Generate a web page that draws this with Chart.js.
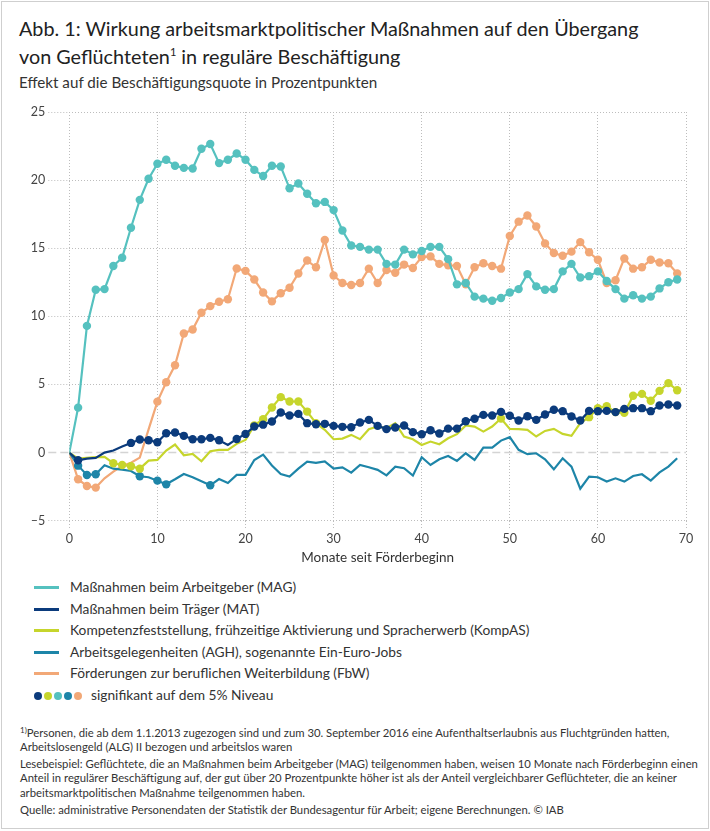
<!DOCTYPE html>
<html lang="de">
<head>
<meta charset="utf-8">
<script src="https://cdn.jsdelivr.net/npm/chart.js@4.4.1/dist/chart.umd.min.js"></script>
<style>
  body { margin: 0; width: 710px; height: 831px; background: #fff; font-family: Lato, sans-serif; color: #333; position: relative; overflow: hidden; }
  .frame { position: absolute; left: 1px; top: 1px; width: 708px; height: 828px; border: 1px solid #cfcfcf; box-sizing: border-box; }
  .title { position: absolute; left: 19px; top: 14px; font-size: 19.8px; line-height: 28px; color: #222; white-space: nowrap; }
  .title sup { font-size: 11px; vertical-align: 8px; line-height: 0; }
  .subtitle { position: absolute; left: 19px; top: 73px; font-size: 15.2px; line-height: 18px; color: #333; white-space: nowrap; }
  #chartBox { position: absolute; left: 0; top: 100px; width: 710px; height: 470px; }
  .legend-row { position: absolute; left: 34px; height: 20px; line-height: 20px; font-size: 13.75px; color: #333; white-space: nowrap; }
  .legend-row .sw { display: inline-block; width: 25px; height: 3px; vertical-align: middle; margin-right: 11px; margin-top: -2px; }
  .legend-row .dot { display: inline-block; width: 8px; height: 8px; border-radius: 50%; margin-right: 2px; vertical-align: middle; margin-top: -2px; }
  .notes { position: absolute; left: 20px; top: 726px; font-size: 11.3px; line-height: 14.2px; color: #333; white-space: nowrap; }
  .notes p { margin: 0 0 2.8px 0; }
  .notes sup { font-size: 8px; vertical-align: 4px; line-height: 0; }
</style>
</head>
<body>
<div class="frame"></div>
<div class="title">Abb. 1: Wirkung arbeitsmarktpolitischer Maßnahmen auf den Übergang<br>von Geflüchteten<sup>1</sup> in reguläre Beschäftigung</div>
<div class="subtitle">Effekt auf die Beschäftigungsquote in Prozentpunkten</div>
<div id="chartBox"><canvas id="chart"></canvas></div>
<div id="legend"></div>
<div class="notes">
  <p><sup>1)</sup>Personen, die ab dem 1.1.2013 zugezogen sind und zum 30. September 2016 eine Aufenthaltserlaubnis aus Fluchtgründen hatten,<br>Arbeitslosengeld (ALG) II bezogen und arbeitslos waren</p>
  <p>Lesebeispiel: Geflüchtete, die an Maßnahmen beim Arbeitgeber (MAG) teilgenommen haben, weisen 10 Monate nach Förderbeginn einen<br>Anteil in regulärer Beschäftigung auf, der gut über 20 Prozentpunkte höher ist als der Anteil vergleichbarer Geflüchteter, die an keiner<br>arbeitsmarktpolitischen Maßnahme teilgenommen haben.</p>
  <p style="margin-top:1.5px">Quelle: administrative Personendaten der Statistik der Bundesagentur für Arbeit; eigene Berechnungen. © IAB</p>
</div>

<script>
// Monate seit Förderbeginn (0..69)
const months = Array.from({ length: 70 }, (_, i) => i);

// Effekte in Prozentpunkten
const magValues = [0, 3.3, 9.3, 11.95, 12.0, 13.7, 14.3, 16.5, 18.55, 20.1,
  21.2, 21.5, 21.05, 20.9, 20.85, 22.3, 22.65, 21.25, 21.5, 21.95,
  21.5, 20.75, 20.3, 21.05, 21.0, 19.4, 19.75, 19.0, 18.3, 18.4,
  17.8, 16.3, 15.2, 15.1, 14.9, 14.9, 13.85, 13.8, 14.9, 14.55,
  14.8, 15.1, 15.1, 14.2, 12.35, 12.45, 11.45, 11.3, 11.15, 11.35,
  11.75, 12.0, 13.1, 12.2, 11.95, 12.0, 13.3, 13.85, 12.85, 12.95,
  13.3, 12.6, 12.0, 11.3, 11.55, 11.3, 11.45, 12.05, 12.5, 12.7];

const matValues = [0, -0.56, -0.44, -0.39, 0.0, 0.15, 0.44, 0.71, 0.96, 0.91,
  0.76, 1.42, 1.47, 1.23, 0.98, 0.98, 1.08, 0.91, 0.56, 1.0,
  1.37, 1.91, 2.05, 2.28, 2.94, 2.72, 2.84, 2.16, 2.08, 2.11,
  1.96, 1.89, 1.86, 2.21, 2.4, 1.96, 1.72, 1.84, 1.99, 1.5,
  1.35, 1.64, 1.4, 1.76, 1.76, 2.3, 2.48, 2.77, 2.72, 2.99,
  2.7, 2.35, 2.67, 2.4, 2.79, 3.14, 3.04, 2.65, 2.35, 3.06,
  3.04, 3.06, 2.97, 3.21, 3.26, 3.26, 3.04, 3.46, 3.53, 3.46];

const kompasValues = [0, -0.44, -0.39, -0.34, -0.32, -0.78, -0.91, -1.0, -1.18, -0.59,
  -0.54, 0.15, 0.59, -0.2, -0.1, -0.64, 0.1, 0.2, 0.2, 0.64,
  0.93, 2.0, 2.45, 3.31, 4.07, 3.75, 3.75, 3.01, 2.16, 1.67,
  0.98, 1.03, 1.3, 0.98, 1.72, 1.91, 1.79, 2.16, 1.18, 0.98,
  0.56, 0.81, 0.61, 1.05, 1.35, 1.99, 1.91, 1.54, 1.91, 2.5,
  1.74, 1.72, 1.67, 1.18, 1.59, 1.74, 1.37, 1.23, 2.16, 2.6,
  3.26, 3.41, 2.97, 2.92, 4.17, 4.31, 3.8, 4.53, 5.1, 4.58];

const aghValues = [0, -0.96, -1.64, -1.59, -0.93, -1.18, -1.25, -1.35, -1.74, -1.81,
  -2.06, -2.33, -1.96, -1.57, -1.81, -2.11, -2.4, -1.94, -2.23, -1.64,
  -1.64, -0.54, -0.15, -0.95, -1.57, -1.76, -1.18, -0.66, -0.76, -0.64,
  -1.18, -1.08, -1.47, -0.91, -1.08, -1.27, -1.67, -1.03, -1.15, -1.69,
  -0.34, -0.91, -0.49, -0.25, -0.61, -0.05, -0.54, 0.37, 0.37, 0.88,
  1.13, 0.2, -0.12, -0.05, -0.49, -1.23, -0.42, -1.03, -2.65, -1.76,
  -1.81, -2.13, -1.89, -2.13, -1.72, -1.59, -2.06, -1.45, -1.03, -0.42];

const fbwValues = [0, -1.96, -2.45, -2.57, -1.89, -1.4, -0.98, -0.74, -0.37, 1.7,
  3.74, 5.16, 6.41, 8.74, 9.03, 10.26, 10.75, 11.07, 11.26, 13.51,
  13.34, 12.7, 11.75, 11.1, 11.7, 12.1, 13.15, 14.1, 13.6, 15.6,
  13.0, 12.45, 12.3, 12.45, 13.5, 12.45, 13.4, 13.2, 13.8, 13.55,
  14.35, 14.4, 13.85, 13.75, 13.7, 12.35, 13.6, 13.9, 13.7, 13.5,
  15.9, 16.95, 17.4, 16.6, 15.35, 14.65, 14.45, 14.75, 15.45, 14.7,
  14.15, 12.45, 12.65, 14.25, 13.5, 13.6, 14.15, 13.95, 13.9, 13.15];

// signifikant auf dem 5% Niveau (1 = Punkt wird gezeichnet)
const magSig = [0].concat(Array(69).fill(1));
const matSig = [0, 1, 0, 0, 0, 0, 0, 1, 1, 1, 1, 1, 1, 1, 1, 1, 1, 1, 0].concat(Array(51).fill(1));
const kompasSig = [0, 0, 0, 0, 0, 1, 1, 1, 1, 0,
  0, 0, 0, 0, 0, 0, 0, 0, 0, 0,
  0, 1, 1, 1, 1, 1, 1, 1, 1, 0,
  0, 0, 0, 0, 0, 0, 0, 0, 0, 0,
  0, 0, 0, 0, 0, 0, 0, 0, 0, 1,
  0, 0, 0, 0, 0, 0, 0, 0, 0, 1,
  1, 1, 1, 1, 1, 1, 1, 1, 1, 1];
const aghSig = [0, 1, 1, 1, 0, 0, 0, 0, 1, 0, 1, 1, 0, 0, 0, 0, 1].concat(Array(53).fill(0));
const fbwSig = [0, 1, 1, 1, 0, 0, 0, 0, 0, 0].concat(Array(60).fill(1));

const seriesNames = [
  'Maßnahmen beim Arbeitgeber (MAG)',
  'Maßnahmen beim Träger (MAT)',
  'Kompetenzfeststellung, frühzeitige Aktivierung und Spracherwerb (KompAS)',
  'Arbeitsgelegenheiten (AGH), sogenannte Ein-Euro-Jobs',
  'Förderungen zur beruflichen Weiterbildung (FbW)'
];
const seriesColors = ['#55c1bf', '#0b3b7c', '#c6d52c', '#1d85a8', '#f2a877'];
const seriesValues = [magValues, matValues, kompasValues, aghValues, fbwValues];
const seriesSig = [magSig, matSig, kompasSig, aghSig, fbwSig];

const yTicks = [-5, 0, 5, 10, 15, 20, 25];
const xTicks = [0, 10, 20, 30, 40, 50, 60, 70];

// Legende als HTML
const legend = document.getElementById('legend');
seriesNames.forEach((name, i) => {
  const row = document.createElement('div');
  row.className = 'legend-row';
  row.style.top = (577 + i * 21.6) + 'px';
  row.innerHTML = `<span class="sw" style="background:${seriesColors[i]}"></span>${name}`;
  legend.appendChild(row);
});
const sigRow = document.createElement('div');
sigRow.className = 'legend-row';
sigRow.style.top = (577 + 5 * 21.6) + 'px';
const dotOrder = [1, 2, 0, 3, 4];
sigRow.innerHTML = dotOrder.map(i => `<span class="dot" style="background:${seriesColors[i]}"></span>`).join('') +
  '<span style="margin-left:7px">signifikant auf dem 5% Niveau</span>';
legend.appendChild(sigRow);

// gestrichelte Nulllinie
const zeroLine = {
  id: 'zeroLine',
  beforeDatasetsDraw(chart) {
    const { ctx, chartArea, scales } = chart;
    const y = scales.y.getPixelForValue(0);
    ctx.save();
    ctx.strokeStyle = '#d4d4d4';
    ctx.lineWidth = 1.5;
    ctx.setLineDash([8, 4]);
    ctx.beginPath();
    ctx.moveTo(chartArea.left - 21, y);
    ctx.lineTo(chartArea.right, y);
    ctx.stroke();
    ctx.restore();
  }
};

Chart.defaults.font.family = 'Lato, sans-serif';
Chart.defaults.color = '#444';

new Chart(document.getElementById('chart'), {
  type: 'line',
  data: {
    labels: months,
    datasets: seriesValues.map((vals, i) => ({
      label: seriesNames[i],
      data: vals,
      borderColor: seriesColors[i],
      backgroundColor: seriesColors[i],
      borderWidth: 2.2,
      tension: 0,
      pointRadius: seriesSig[i].map(s => s ? 4.2 : 0),
      pointHoverRadius: 0,
      pointBorderWidth: 0,
      pointBackgroundColor: seriesColors[i]
    }))
  },
  options: {
    responsive: true,
    maintainAspectRatio: false,
    animation: false,
    events: [],
    layout: { padding: { top: 12, right: 24, bottom: 0, left: 0 } },
    plugins: { legend: { display: false }, tooltip: { enabled: false } },
    scales: {
      x: {
        type: 'linear',
        min: 0,
        max: 70,
        afterBuildTicks: axis => { axis.ticks = xTicks.map(v => ({ value: v })); },
        afterFit: axis => { axis.height = 49.3; },
        grid: { color: '#bdbdbd', lineWidth: 1, tickLength: 9, tickBorderDash: [1, 2] },
        border: { display: false, dash: [1, 2] },
        ticks: { font: { size: 12.5 }, padding: 2, maxRotation: 0 },
        title: { display: true, text: 'Monate seit Förderbeginn', font: { size: 13.5 }, color: '#333', padding: { top: 0, bottom: 4 } }
      },
      y: {
        min: -5,
        max: 25,
        afterBuildTicks: axis => { axis.ticks = yTicks.map(v => ({ value: v })); },
        afterFit: axis => { axis.width = 69.3; },
        grid: {
          color: c => (c.tick && c.tick.value === 0) ? 'rgba(0,0,0,0)' : '#bdbdbd',
          lineWidth: 1, tickLength: 21, tickBorderDash: [1, 2]
        },
        border: { display: false, dash: [1, 2] },
        ticks: { font: { size: 12.5 }, padding: 3, callback: v => String(v).replace('-', '–') }
      }
    }
  },
  plugins: [zeroLine]
});
</script>
</body>
</html>
